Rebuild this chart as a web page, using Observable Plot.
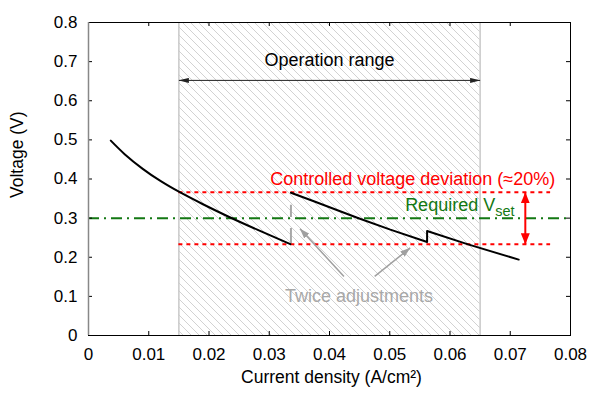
<!DOCTYPE html>
<html><head><meta charset="utf-8">
<script src="https://cdn.jsdelivr.net/npm/d3@7"></script>
<script src="https://cdn.jsdelivr.net/npm/@observablehq/plot@0.6"></script>
<style>html,body{margin:0;padding:0;background:#fff}</style>
</head><body><div id="chart"></div>
<script>
// ---- data ----
const xTicks = [0, 0.01, 0.02, 0.03, 0.04, 0.05, 0.06, 0.07, 0.08];
const yTicks = [0, 0.1, 0.2, 0.3, 0.4, 0.5, 0.6, 0.7, 0.8];
const segment1X = [0.0037, 0.006, 0.009, 0.012, 0.015, 0.019, 0.023, 0.028, 0.0335];
const segment1Y = [0.498, 0.4635, 0.426, 0.3945, 0.3675, 0.3355, 0.3055, 0.2705, 0.2335];
const segment2X = [0.0336, 0.0374, 0.0446, 0.0501, 0.0562, 0.0562, 0.063, 0.0714];
const segment2Y = [0.365, 0.343, 0.301, 0.2705, 0.239, 0.267, 0.233, 0.194];
const opRange = [0.015, 0.065];
const opArrowY = 0.652;
const opLabel = {x: 0.04, y: 0.703, text: "Operation range"};
const vset = 0.3;
const devBand = [0.366, 0.233];
const devBandX = [0.015, 0.0767];
const devArrowX = 0.0725;
const devLabel = {x: 0.0538, y: 0.40, text: "Controlled voltage deviation (≈20%)"};
const vsetLabel = {x: 0.0675, y: 0.333, main: "Required V", sub: "set"};
const adjX = 0.0336;
const adjDash = [0.235, 0.333];
const adjArrows = [
  {x1: 0.0424, y1: 0.151, x2: 0.0351, y2: 0.273},
  {x1: 0.0475, y1: 0.151, x2: 0.0534, y2: 0.224}
];
const adjLabel = {x: 0.0449, y: 0.100, text: "Twice adjustments"};

// ---- helpers ----
const seg1 = segment1X.map((x, i) => ({x, y: segment1Y[i]}));
const seg2 = segment2X.map((x, i) => ({x, y: segment2Y[i]}));
const fmt = d => String(+d.toFixed(3));
const NS = "http://www.w3.org/2000/svg";
function headMarker(len, wid, start) {
  return (color, context) => {
    const doc = (context && context.document) || document;
    const m = doc.createElementNS(NS, "marker");
    m.setAttribute("viewBox", `${-len} ${-wid / 2} ${len} ${wid}`);
    m.setAttribute("markerWidth", len);
    m.setAttribute("markerHeight", wid);
    m.setAttribute("markerUnits", "userSpaceOnUse");
    m.setAttribute("refX", 0);
    m.setAttribute("refY", 0);
    m.setAttribute("orient", start ? "auto-start-reverse" : "auto");
    const p = doc.createElementNS(NS, "path");
    p.setAttribute("d", `M${-len},${-wid / 2}L0,0L${-len},${wid / 2}Z`);
    p.setAttribute("fill", color);
    p.setAttribute("stroke", "none");
    m.appendChild(p);
    return m;
  };
}
const hatchDefs = () => {
  const defs = document.createElementNS(NS, "defs");
  defs.innerHTML = `<pattern id="hatch" patternUnits="userSpaceOnUse" width="8" height="8">
    <path d="M0,0L8,8M-2,6L2,10M6,-2L10,2" stroke="#d2d2d2" stroke-width="1"/></pattern>`;
  return defs;
};

const W = 602, H = 411, mL = 88, mR = 32, mT = 22, mB = 76;
const pw = W - mL - mR, ph = H - mT - mB;
const FS = 17, FA = 18, FT = 17.5;

const chart = Plot.plot({
  width: W, height: H,
  marginLeft: mL, marginRight: mR, marginTop: mT, marginBottom: mB,
  style: {fontFamily: "'Liberation Sans', Arial, sans-serif", fontSize: FS + "px", color: "black", background: "white"},
  x: {domain: [0, 0.08]},
  y: {domain: [0, 0.8]},
  marks: [
    hatchDefs,
    Plot.rect([opRange], {x1: d => d[0], x2: d => d[1], fill: "url(#hatch)"}),
    Plot.ruleX(opRange, {x: d => d, stroke: "#c8c8c8", strokeWidth: 1.5}),
    Plot.link([opRange], {x1: d => d[0], x2: d => d[1], y1: opArrowY, y2: opArrowY, stroke: "#222", strokeWidth: 1,
      markerStart: headMarker(10, 5, true), markerEnd: headMarker(10, 5, false)}),
    Plot.text([opLabel], {x: "x", y: "y", text: "text", fontSize: FA, fill: "black"}),
    Plot.ruleY([vset], {y: d => d, stroke: "#137813", strokeWidth: 2, strokeDasharray: "11,5,2,5"}),
    Plot.ruleY(devBand, {y: d => d, x1: devBandX[0], x2: devBandX[1], stroke: "#ff0000", strokeWidth: 2, strokeDasharray: "4,4"}),
    Plot.link([devBand], {x1: devArrowX, x2: devArrowX, y1: d => d[0], y2: d => d[1], stroke: "#ff0000", strokeWidth: 2,
      markerStart: headMarker(11, 9, true), markerEnd: headMarker(11, 9, false)}),
    Plot.ruleX([adjX], {x: d => d, y1: adjDash[0], y2: adjDash[1], stroke: "#a8a8a8", strokeWidth: 2, strokeDasharray: "15,11"}),
    Plot.line(seg1, {x: "x", y: "y", stroke: "black", strokeWidth: 2, curve: "catmull-rom"}),
    Plot.line(seg2, {x: "x", y: "y", stroke: "black", strokeWidth: 2, curve: "linear"}),
    Plot.link(adjArrows, {x1: "x1", y1: "y1", x2: "x2", y2: "y2", stroke: "#a0a0a0", strokeWidth: 1.5,
      markerEnd: headMarker(10, 7, false)}),
    Plot.text([adjLabel], {x: "x", y: "y", text: "text", fontSize: FA, fill: "#a8a8a8"}),
    Plot.text([devLabel], {x: "x", y: "y", text: "text", fontSize: FA, fill: "#ff0000"}),
    Plot.text([vsetLabel], {x: "x", y: "y", text: "main", fontSize: FA, fill: "#137813", textAnchor: "end"}),
    Plot.text([vsetLabel], {x: "x", y: "y", text: "sub", fontSize: 14.5, fill: "#137813", textAnchor: "start", dy: 6}),
    // inward ticks on all four sides
    Plot.ruleX(xTicks, {x: d => d, insetTop: ph - 4, stroke: "black"}),
    Plot.ruleX(xTicks, {x: d => d, insetBottom: ph - 4, stroke: "black"}),
    Plot.ruleY(yTicks, {y: d => d, insetRight: pw - 4, stroke: "black"}),
    Plot.ruleY(yTicks, {y: d => d, insetLeft: pw - 4, stroke: "black"}),
    Plot.frame({stroke: "black"}),
    Plot.ruleX([0], {x: d => d, stroke: "#888", strokeWidth: 1.5}),
    Plot.axisX(xTicks, {anchor: "bottom", tickSize: 0, tickPadding: 12, tickFormat: fmt, label: null, fontSize: FS}),
    Plot.axisY(yTicks, {anchor: "left", tickSize: 0, tickPadding: 11, tickFormat: fmt, label: null, fontSize: FS}),
    Plot.text(["Current density (A/cm²)"], {frameAnchor: "bottom", text: d => d, dy: 47, dx: 2, fontSize: FT}),
    Plot.text(["Voltage (V)"], {frameAnchor: "left", text: d => d, dx: -71, dy: 19, rotate: -90, fontSize: FT})
  ]
});
document.getElementById("chart").appendChild(chart);
</script>
</body></html>
